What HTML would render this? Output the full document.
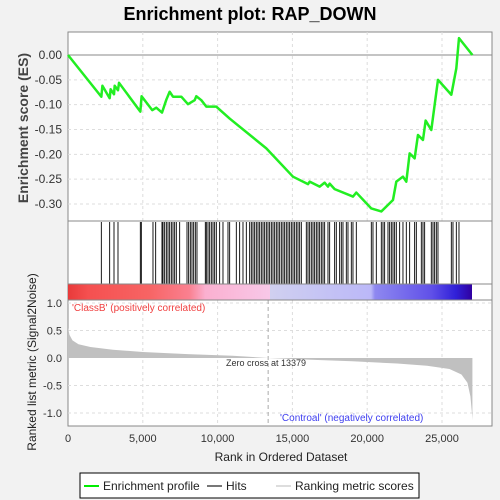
<!DOCTYPE html>
<html><head><meta charset="utf-8"><style>
body{margin:0;background:#f2f2f2;font-family:"Liberation Sans",sans-serif;}
svg{display:block}
</style></head><body>
<svg id="chart" width="500" height="500" viewBox="0 0 500 500" xmlns="http://www.w3.org/2000/svg">
<rect x="0" y="0" width="500" height="500" fill="#f2f2f2"/>
<text x="250" y="20" text-anchor="middle" font-size="18" font-weight="bold" fill="#000">Enrichment plot: RAP_DOWN</text>
<rect x="68" y="32" width="424" height="394" fill="#fff" stroke="#888"/>
<g id="grid"></g>
<g id="es"></g>
<g id="hits"></g>
<defs>
<linearGradient id="cb" x1="0" x2="1" y1="0" y2="0">
<stop offset="0" stop-color="#e83a3a"/><stop offset="0.05" stop-color="#f55050"/><stop offset="0.2" stop-color="#f76464"/><stop offset="0.3" stop-color="#fa8090"/><stop offset="0.34" stop-color="#fbb0d0"/><stop offset="0.5" stop-color="#f8c8e8"/><stop offset="0.5" stop-color="#d0d0f0"/><stop offset="0.75" stop-color="#bbb8f8"/><stop offset="0.76" stop-color="#8e88f0"/><stop offset="0.9" stop-color="#6050e8"/><stop offset="0.96" stop-color="#3020d8"/><stop offset="1" stop-color="#3000a0"/>
</linearGradient></defs>
<rect x="68" y="284" width="404" height="16" fill="url(#cb)"/>
<line x1="68" y1="221" x2="492" y2="221" stroke="#888"/>
<line x1="68" y1="284" x2="492" y2="284" stroke="#888"/>
<line x1="68" y1="300" x2="492" y2="300" stroke="#888"/>
<g id="metric"></g>
<text x="72" y="311" font-size="10" fill="#f04040">'ClassB' (positively correlated)</text>
<text x="280" y="421" font-size="10" fill="#4040f0">'Controal' (negatively correlated)</text>
<text x="226" y="366" font-size="9" fill="#333">Zero cross at 13379</text>
<g id="axes" font-size="11" fill="#333"></g>
<text x="28" y="128" transform="rotate(-90 28 128)" text-anchor="middle" font-size="14" font-weight="bold" fill="#444">Enrichment score (ES)</text>
<text x="36" y="362" transform="rotate(-90 36 362)" text-anchor="middle" font-size="12" fill="#222">Ranked list metric (Signal2Noise)</text>
<text x="281" y="461" text-anchor="middle" font-size="12" fill="#222">Rank in Ordered Dataset</text>
<g>
<rect x="80" y="473" width="339" height="25" fill="#fff" stroke="#000"/>
<line x1="84" y1="486" x2="99" y2="486" stroke="#00ee00" stroke-width="2"/>
<text x="103" y="490" font-size="12" fill="#222">Enrichment profile</text>
<line x1="207" y1="486" x2="222" y2="486" stroke="#777" stroke-width="2"/>
<text x="226" y="490" font-size="12" fill="#222">Hits</text>
<line x1="276" y1="486" x2="291" y2="486" stroke="#ddd" stroke-width="2"/>
<text x="295" y="490" font-size="12" fill="#222">Ranking metric scores</text>
</g>
</svg>
<script>
const esRanks=[0,2228,2300,2785,2850,3075,3120,3342,3410,4835,4920,5630,5900,6283,6573,6795,7018,7575,8020,8466,8577,8911,9246,9915,10806,13257,15039,16042,16153,16821,17156,17378,17490,17824,19049,19272,20275,20943,21723,21946,22391,22614,22837,23171,23394,23728,23906,24285,24731,25623,25957,26135,27033];
const esValues=[0,-0.084,-0.062,-0.087,-0.069,-0.079,-0.062,-0.071,-0.056,-0.114,-0.083,-0.111,-0.106,-0.116,-0.09,-0.074,-0.084,-0.084,-0.099,-0.091,-0.083,-0.091,-0.104,-0.104,-0.128,-0.188,-0.245,-0.26,-0.255,-0.265,-0.257,-0.265,-0.259,-0.27,-0.285,-0.277,-0.309,-0.315,-0.292,-0.255,-0.245,-0.255,-0.198,-0.208,-0.161,-0.171,-0.132,-0.151,-0.05,-0.08,-0.027,0.034,0];
const hitRanks=[2228,2785,3075,3342,4835,4902,5681,5860,6283,6350,6461,6573,6684,6795,6907,7018,7130,7241,7464,7954,8065,8177,8288,8400,8511,8622,9179,9246,9358,9469,9580,9692,9803,9915,10137,10360,10694,10806,11251,11474,11697,11920,12143,12254,12365,12477,12588,12700,12811,12922,13034,13145,13257,13368,13479,13591,13702,13814,13925,14036,14148,14259,14371,14482,14593,14705,14816,14928,15039,15150,15262,15373,15485,15596,15930,16042,16153,16264,16376,16487,16599,16710,16821,16933,17044,17156,17378,17490,17824,17935,18158,18270,18381,18604,18715,18938,19049,19272,20275,20386,20609,20943,21055,21166,21389,21500,21612,21723,21834,21946,22169,22391,22614,22837,23171,23283,23617,23728,23840,24285,24397,24508,24620,24731,25623,25734,25957,26135];
const metricRanks=[0,100,300,700,1500,3000,5000,8000,11000,13379,16000,19000,22000,24000,25500,26300,26700,26900,27000,27033];
const metricValues=[0.55,0.42,0.32,0.25,0.2,0.15,0.11,0.07,0.04,0,-0.03,-0.06,-0.1,-0.14,-0.2,-0.3,-0.45,-0.7,-1.0,-1.13];
const xTicks=[0,5000,10000,15000,20000,25000];
const xTickLabels=["0","5,000","10,000","15,000","20,000","25,000"];
const esTicks=[0,-0.05,-0.1,-0.15,-0.2,-0.25,-0.3];
const esTickLabels=["0.00","-0.05","-0.10","-0.15","-0.20","-0.25","-0.30"];
const mTicks=[1,0.5,0,-0.5,-1];
const mTickLabels=["1.0","0.5","0.0","-0.5","-1.0"];
const NS="http://www.w3.org/2000/svg";
const X=r=>68+r*374/25000;
const Y=v=>55-v*149/0.30;
const M=v=>358-v*55;
function mk(tag,attrs,parent){const e=document.createElementNS(NS,tag);for(const k in attrs)e.setAttribute(k,attrs[k]);parent.appendChild(e);return e;}
const grid=document.getElementById('grid'),axes=document.getElementById('axes');
xTicks.forEach((t,i)=>{
  if(t>0){mk('line',{x1:X(t),x2:X(t),y1:32,y2:221,stroke:'#ddd','stroke-dasharray':'3,3'},grid);
  mk('line',{x1:X(t),x2:X(t),y1:300,y2:426,stroke:'#ddd','stroke-dasharray':'3,3'},grid);}
  const tx=mk('text',{x:X(t),y:442,'text-anchor':'middle'},axes);tx.textContent=xTickLabels[i];
  
  
});
esTicks.forEach((t,i)=>{
  if(t!==0)mk('line',{x1:68,x2:492,y1:Y(t),y2:Y(t),stroke:'#ddd','stroke-dasharray':'3,3'},grid);
  const tx=mk('text',{x:62,y:Y(t)+4,'text-anchor':'end','font-size':12},axes);tx.textContent=esTickLabels[i];
  
  
});
mk('line',{x1:68,x2:492,y1:Y(0),y2:Y(0),stroke:'#888'},grid);
mTicks.forEach((t,i)=>{
  if(t!==0)mk('line',{x1:68,x2:492,y1:M(t),y2:M(t),stroke:'#ddd','stroke-dasharray':'3,3'},grid);
  const tx=mk('text',{x:62,y:M(t)+4,'text-anchor':'end'},axes);tx.textContent=mTickLabels[i];
  
  
});
mk('line',{x1:X(13379),x2:X(13379),y1:300,y2:426,stroke:'#aaa','stroke-dasharray':'4,3'},grid);
// ES line
const es=document.getElementById('es');
const pl=mk('polyline',{points:esRanks.map((r,i)=>X(r)+','+Y(esValues[i])).join(' '),fill:'none',stroke:'#22ee22','stroke-width':2.5,'stroke-linejoin':'round'},es);


// hits
const hits=document.getElementById('hits');
hitRanks.forEach(r=>{const l=mk('line',{x1:X(r),x2:X(r),y1:222,y2:284,stroke:'#000','stroke-width':0.9},hits);
  
  });
// metric area
const met=document.getElementById('metric');
let d='M'+X(0)+','+M(0);
metricRanks.forEach((r,i)=>{d+=' L'+X(r)+','+M(metricValues[i]);});
d+=' L'+X(27033)+','+M(0)+' Z';
const ar=mk('path',{d:d,fill:'#c0c0c0'},met);


</script>
</body></html>
